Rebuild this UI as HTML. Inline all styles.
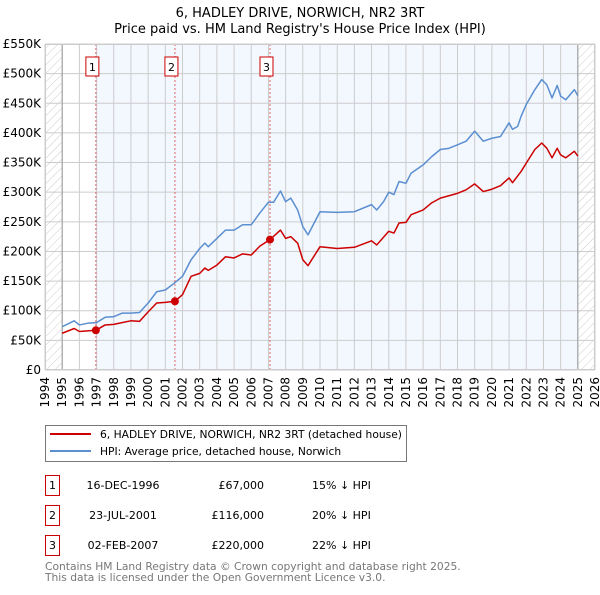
<!DOCTYPE html>
<html><head><meta charset="utf-8"><style>
body{margin:0;background:#fff;}
svg text{font-family:"DejaVu Sans","Liberation Sans",sans-serif;}
</style></head><body>
<svg id="chart" width="600" height="590" viewBox="0 0 600 590" xmlns="http://www.w3.org/2000/svg">
<defs><pattern id="hatch" width="6" height="6" patternUnits="userSpaceOnUse" patternTransform="rotate(45)"><line x1="0" y1="0" x2="0" y2="6" stroke="#ccc" stroke-width="1"/></pattern></defs>
<text x="300" y="17" text-anchor="middle" font-size="13">6, HADLEY DRIVE, NORWICH, NR2 3RT</text>
<text x="300" y="33" text-anchor="middle" font-size="13">Price paid vs. HM Land Registry's House Price Index (HPI)</text>
<g id="plot"></g>
<g>
<rect x="45.5" y="425.5" width="361" height="36" fill="#fff" stroke="#777"/>
<line x1="50" y1="434" x2="91" y2="434" stroke="#cc0000" stroke-width="2"/>
<text x="100" y="438" font-size="10.7">6, HADLEY DRIVE, NORWICH, NR2 3RT (detached house)</text>
<line x1="50" y1="451" x2="91" y2="451" stroke="#5b8fd0" stroke-width="2"/>
<text x="100" y="455" font-size="10.7">HPI: Average price, detached house, Norwich</text>
</g>
<g id="table" font-size="11"></g>
<text x="45" y="570" font-size="10.7" fill="#777">Contains HM Land Registry data © Crown copyright and database right 2025.</text>
<text x="45" y="581" font-size="10.7" fill="#777">This data is licensed under the Open Government Licence v3.0.</text>
</svg>
<script>
const hpiYears=[1995,1995.7,1996,1996.5,1997,1997.5,1998,1998.5,1999,1999.5,2000,2000.5,2001,2001.5,2002,2002.5,2003,2003.3,2003.5,2004,2004.5,2005,2005.5,2006,2006.5,2007,2007.3,2007.7,2008,2008.3,2008.7,2009,2009.3,2010,2011,2012,2013,2013.3,2013.7,2014,2014.3,2014.6,2015,2015.3,2016,2016.5,2017,2017.5,2018,2018.5,2019,2019.5,2020,2020.5,2021,2021.2,2021.5,2021.7,2022,2022.5,2022.9,2023.2,2023.5,2023.8,2024,2024.3,2024.8,2025];
const hpiValues=[73,83,76,79,80,89,90,96,96,97,113,132,135,146,158,186,205,214,208,222,236,236,245,245,265,283,283,302,284,290,270,242,228,267,266,267,279,270,284,300,296,318,315,332,346,360,372,374,380,386,403,386,391,394,417,406,411,428,448,473,490,481,459,480,462,456,473,463];
const priceYears=[1995,1995.7,1996,1996.96,1997.5,1998,1999,1999.5,2000,2000.5,2001,2001.56,2002,2002.5,2003,2003.3,2003.5,2004,2004.5,2005,2005.5,2006,2006.5,2007.09,2007.7,2008,2008.3,2008.7,2009,2009.3,2010,2011,2012,2013,2013.3,2014,2014.3,2014.6,2015,2015.3,2016,2016.5,2017,2017.5,2018,2018.5,2019,2019.5,2020,2020.5,2021,2021.2,2021.7,2022,2022.5,2022.9,2023.2,2023.5,2023.8,2024,2024.3,2024.8,2025];
const priceValues=[62,70,65,67,76,77,83,82,98,113,114,116,127,158,163,172,168,177,191,189,196,194,209,220,236,222,225,214,186,176,208,205,207,218,211,234,231,248,249,262,270,282,290,294,298,304,314,301,305,311,324,316,335,349,372,383,374,358,374,363,358,369,361];
const saleLabels=["1","2","3"];
const saleYears=[1996.96,2001.56,2007.09];
const saleValues=[67,116,220];
const saleDates=["16-DEC-1996","23-JUL-2001","02-FEB-2007"];
const salePrices=["£67,000","£116,000","£220,000"];
const saleDiffs=["15% ↓ HPI","20% ↓ HPI","22% ↓ HPI"];
const yTicks=[0,50,100,150,200,250,300,350,400,450,500,550];
const yTickLabels=["£0","£50K","£100K","£150K","£200K","£250K","£300K","£350K","£400K","£450K","£500K","£550K"];
const xTicks=[1994,1995,1996,1997,1998,1999,2000,2001,2002,2003,2004,2005,2006,2007,2008,2009,2010,2011,2012,2013,2014,2015,2016,2017,2018,2019,2020,2021,2022,2023,2024,2025,2026];

const X0=45,X1=595,Y0=370,Y1=44;
const xs=y=>X0+(y-1994)/(2026-1994)*(X1-X0);
const ys=v=>Y0-v/550*(Y0-Y1);
const NS="http://www.w3.org/2000/svg";
function mk(p,t,a){const e=document.createElementNS(NS,t);for(const k in a)e.setAttribute(k,a[k]);p.appendChild(e);return e;}
const plot=document.getElementById('plot');
mk(plot,'rect',{x:X0,y:Y1,width:X1-X0,height:Y0-Y1,fill:'#fff'});
const shade=mk(plot,'rect',{x:xs(saleYears[0]),y:Y1,width:xs(2025)-xs(saleYears[0]),height:Y0-Y1,fill:'#eef3fd',opacity:0.7});


const h1=mk(plot,'rect',{x:X0,y:Y1,width:xs(1995)-X0,height:Y0-Y1,fill:'url(#hatch)'});


const h2=mk(plot,'rect',{x:xs(2025),y:Y1,width:X1-xs(2025),height:Y0-Y1,fill:'url(#hatch)'});


yTicks.forEach((v,i)=>{
  const l=mk(plot,'line',{x1:X0,x2:X1,y1:ys(v),y2:ys(v),stroke:'#ccc','stroke-width':1});
  
  
  const t=mk(plot,'text',{x:X0-4,y:ys(v)+4,'text-anchor':'end','font-size':12});
  
  
  t.textContent=yTickLabels[i];
});
xTicks.forEach(yr=>{
  const l=mk(plot,'line',{x1:xs(yr),x2:xs(yr),y1:Y1,y2:Y0,stroke:'#ccc','stroke-width':1});
  
  
  const t=mk(plot,'text',{x:0,y:0,'text-anchor':'end','font-size':12,transform:`translate(${xs(yr)+4},${Y0+7}) rotate(-90)`});
  
  
  t.textContent=yr;
});
[1995,2025].forEach(yr=>{const l=mk(plot,'line',{x1:xs(yr),x2:xs(yr),y1:Y1,y2:Y0,stroke:'#999','stroke-width':1});

});
saleYears.forEach((yr,i)=>{
  const l=mk(plot,'line',{x1:xs(yr),x2:xs(yr),y1:Y1,y2:Y0,stroke:'#e06060','stroke-width':1,'stroke-dasharray':'2,2'});
  
  
  const g=mk(plot,'g',{});
  
  
  mk(g,'rect',{x:xs(yr)-10,y:57,width:13,height:19,fill:'#fff',stroke:'#cc0000'});
  const t=mk(g,'text',{x:xs(yr)-3.5,y:71,'text-anchor':'middle','font-size':11});t.textContent=saleLabels[i];
});
const line=(xa,va,col,name)=>{const p=mk(plot,'polyline',{points:xa.map((y,i)=>xs(y)+','+ys(va[i])).join(' '),fill:'none',stroke:col,'stroke-width':1.5,'stroke-linejoin':'round'});

};
line(hpiYears,hpiValues,'#5b8fd0','hpi-line');
line(priceYears,priceValues,'#cc0000','price-paid-line');
saleYears.forEach((yr,i)=>{const c=mk(plot,'circle',{cx:xs(yr),cy:ys(saleValues[i]),r:4,fill:'#cc0000'});

});
mk(plot,'rect',{x:X0+.5,y:Y1+.5,width:X1-X0-1,height:Y0-Y1-1,fill:'none',stroke:'#ccc'});
const tb=document.getElementById('table');
saleLabels.forEach((s,i)=>{
  const y=475+i*30;
  const g=mk(tb,'g',{});
  
  
  mk(g,'rect',{x:45.5,y:y+.5,width:14,height:20,fill:'none',stroke:'#cc0000'});
  const a=mk(g,'text',{x:52.5,y:y+14,'text-anchor':'middle'});a.textContent=s;
  const b=mk(g,'text',{x:123,y:y+14,'text-anchor':'middle'});b.textContent=saleDates[i];
  const c=mk(g,'text',{x:264,y:y+14,'text-anchor':'end'});c.textContent=salePrices[i];
  const d=mk(g,'text',{x:312,y:y+14});d.textContent=saleDiffs[i];
});
</script>
</body></html>
